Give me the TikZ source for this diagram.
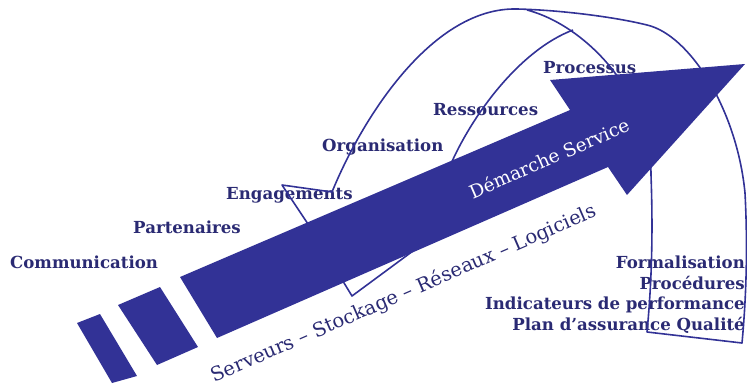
\documentclass[tikz,border=0pt]{standalone}
\usepackage{fontspec}
\setmainfont{DejaVu Serif}
\definecolor{arrowblue}{RGB}{50,50,150}
\definecolor{navy}{RGB}{42,42,115}
\begin{document}
\begin{tikzpicture}[x=1pt,y=-1pt,
  lbl/.style={text=navy,font=\bfseries\fontsize{16.6}{19}\selectfont,inner sep=0pt},
  lblw/.style={lbl,anchor=base west},
  lble/.style={lbl,anchor=base east},
  ribbon/.style={draw=arrowblue,line width=1.6pt,line join=round},
  bigarrow/.style={fill=arrowblue,draw=none},
  ontext/.style={inner sep=0pt}]
\useasboundingbox (0,0) rectangle (747,388);
% labels
\node[lblw] (com) at (10,268) {Communication};
\node[lblw] (par) at (133,233) {Partenaires};
\node[lblw] (eng) at (226,199) {Engagements};
\node[lblw] (org) at (322,151) {Organisation};
\node[lblw] (res) at (433,115) {Ressources};
\node[lblw] (pro) at (543,73) {Processus};
\node[lble] (for) at (745,268) {Formalisation};
\node[lble] (proc) at (745,289) {Procédures};
\node[lble] (ind) at (745,309) {Indicateurs de performance};
\node[lble] (plan) at (745,330) {Plan d’assurance Qualité};
% ribbon lines
\coordinate (e1) at (310,227);
\coordinate (e2) at (282,185);
\coordinate (e3) at (332,192);
\coordinate (top) at (517,9);
\coordinate (fork) at (527,10);
\coordinate (r1) at (647,25);
\coordinate (r2) at (745,193);
\coordinate (br) at (742,343);
\coordinate (bl) at (647,332);
\coordinate (i1) at (450,166);
\coordinate (meet) at (573,30);
\coordinate (v1) at (341,278);
\coordinate (v2) at (352,296);
\coordinate (v3) at (417,248);
\draw[ribbon] (e1) -- (e2) -- (e3) .. controls (364,114) and (434,7) .. (top)
  .. controls (560,10) and (615,17) .. (r1)
  .. controls (690,35) and (737,110) .. (r2)
  .. controls (748,250) and (746,300) .. (br) -- (bl)
  .. controls (652,280) and (653,230) .. (651,175)
  .. controls (651,140) and (640,110) .. (620,80)
  .. controls (600,50) and (565,20) .. (fork);
\draw[ribbon] (i1) .. controls (472,115) and (520,50) .. (meet);
\draw[ribbon] (v1) -- (v2) -- (v3);
% arrow
\fill[bigarrow] (180,277) -- (570,110) -- (550,80) -- (745,64) -- (627,195) -- (608,167) -- (217,338) -- cycle;
\fill[bigarrow] (118,305) -- (160,287) -- (198,347) -- (157,365) -- cycle;
\fill[bigarrow] (77,323) -- (100,314) -- (137,376) -- (112,383) -- cycle;
% rotated texts
\node[ontext,text=white,rotate=23.5,font=\fontsize{18.5}{21}\selectfont] (dem) at (549,158) {Démarche Service};
\node[ontext,text=navy,rotate=23.5,font=\fontsize{19.5}{22}\selectfont] (srv) at (404,294) {Serveurs – Stockage – Réseaux – Logiciels};
\end{tikzpicture}
\end{document}
